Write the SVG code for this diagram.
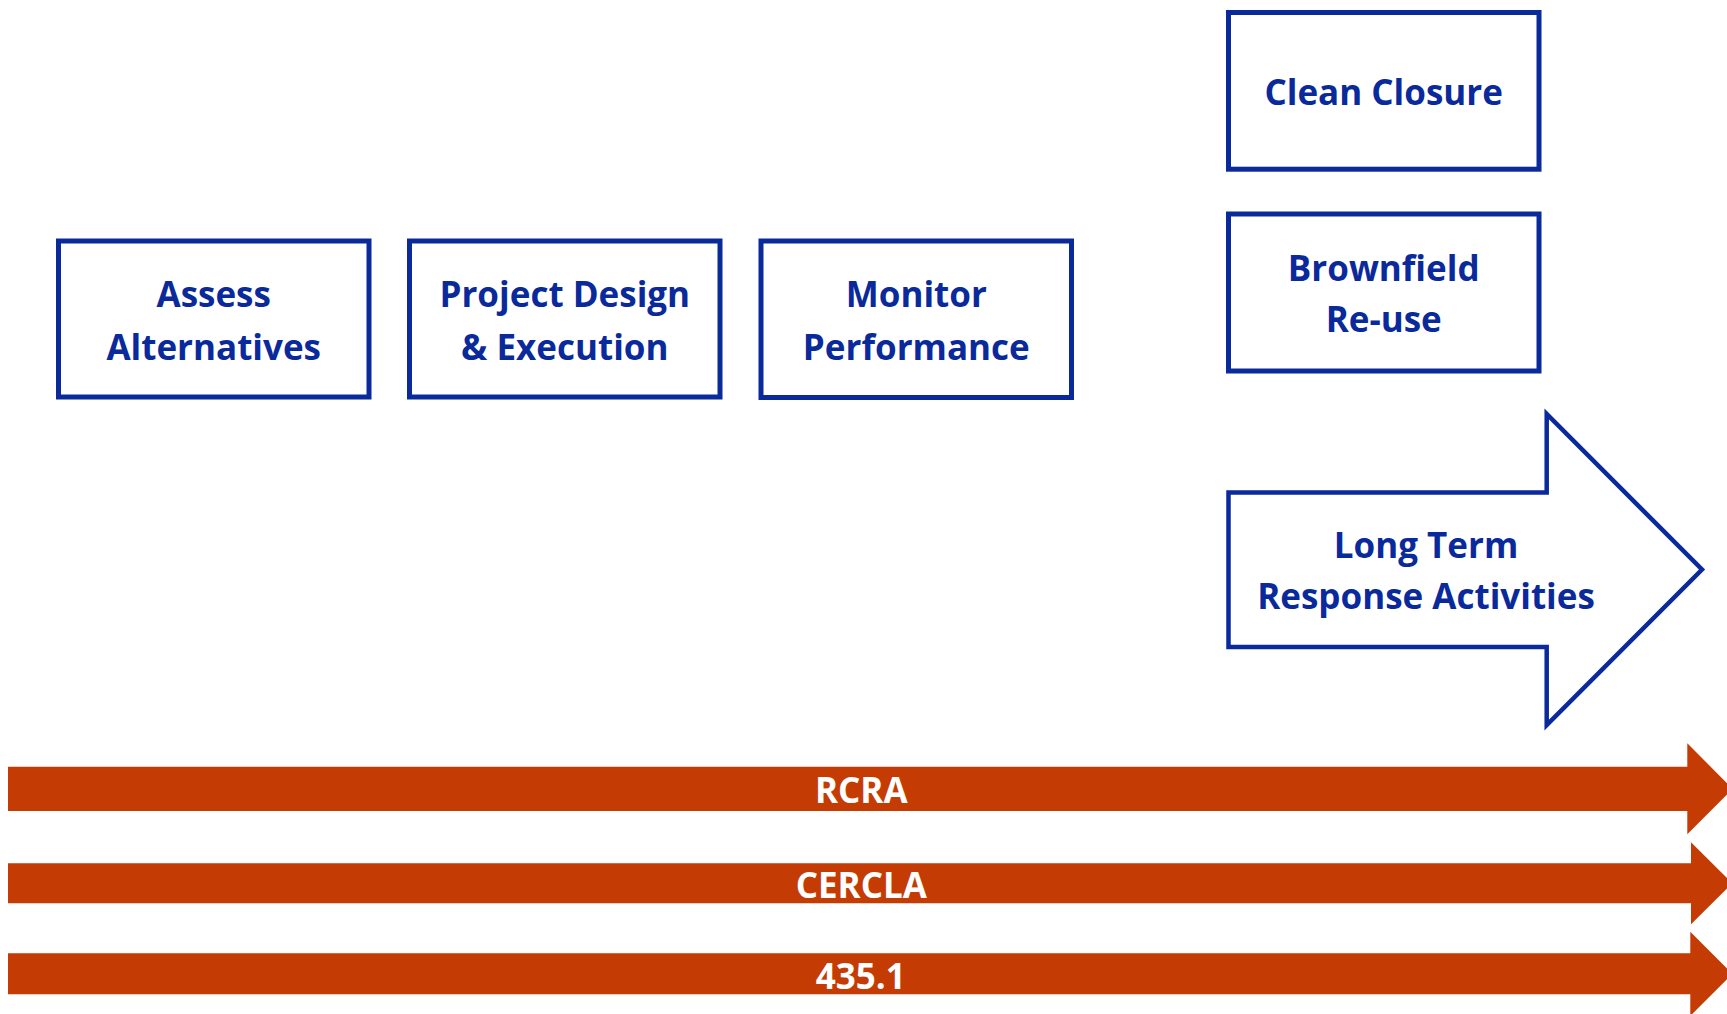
<svg xmlns="http://www.w3.org/2000/svg" width="1727" height="1014" viewBox="0 0 1727 1014">
<style>
.box{fill:#fff;stroke:#0A2A9B;stroke-width:5;}
.shape{fill:#fff;stroke:#0A2A9B;stroke-width:4.5;stroke-linejoin:miter;}
.lbl{font-family:"Open Sans","Noto Sans","Liberation Sans",sans-serif;font-weight:700;font-size:35px;fill:#0A2A9B;text-anchor:middle;}
.bar{fill:#C43B03;}
.blbl{font-family:"Open Sans","Noto Sans","Liberation Sans",sans-serif;font-weight:700;font-size:35px;fill:#fff;text-anchor:middle;}
</style>
<rect width="1727" height="1014" fill="#fff"/>
<g id="assess">
<rect class="box" x="58.5" y="241" width="310.5" height="156"/>
<text class="lbl" x="213.7" y="307">Assess</text>
<text class="lbl" x="213.7" y="359.5">Alternatives</text>
</g>
<g id="project">
<rect class="box" x="409.5" y="241" width="310.5" height="156"/>
<text class="lbl" x="564.8" y="307">Project Design</text>
<text class="lbl" x="564.8" y="359.5">&amp; Execution</text>
</g>
<g id="monitor">
<rect class="box" x="761" y="241" width="310.5" height="156.5"/>
<text class="lbl" x="916.3" y="307">Monitor</text>
<text class="lbl" x="916.3" y="359.5">Performance</text>
</g>
<g id="clean-closure">
<rect class="box" x="1228.5" y="12.5" width="310.5" height="156.7"/>
<text class="lbl" x="1383.7" y="105">Clean Closure</text>
</g>
<g id="brownfield">
<rect class="box" x="1228.5" y="214" width="310.5" height="157"/>
<text class="lbl" x="1383.7" y="281">Brownfield</text>
<text class="lbl" x="1383.7" y="332">Re-use</text>
</g>
<g id="long-term">
<path class="shape" d="M1228.5,492.5 H1546.7 V414 L1702,569.5 L1546.7,725 V647 H1228.5 Z"/>
<text class="lbl" x="1426" y="558.3">Long Term</text>
<text class="lbl" x="1426" y="609.3">Response Activities</text>
</g>
<g id="connectors">
<g id="rcra">
<path class="bar" d="M8,766.7 H1687.3 V743.3 L1732.6,788.8 L1687.3,834.3 V811 H8 Z"/>
<text class="blbl" x="861.3" y="802.7">RCRA</text>
</g>
<g id="cercla">
<path class="bar" d="M8,863.3 H1691 V842.3 L1732.3,883.3 L1691,924.3 V903.3 H8 Z"/>
<text class="blbl" x="861.3" y="897.7">CERCLA</text>
</g>
<g id="doe-435">
<path class="bar" d="M8,953.3 H1690.3 V931.7 L1732.4,973.8 L1690.3,1015.9 V994.3 H8 Z"/>
<text class="blbl" x="860.8" y="989.3">435.1</text>
</g>
</g>
</svg>
